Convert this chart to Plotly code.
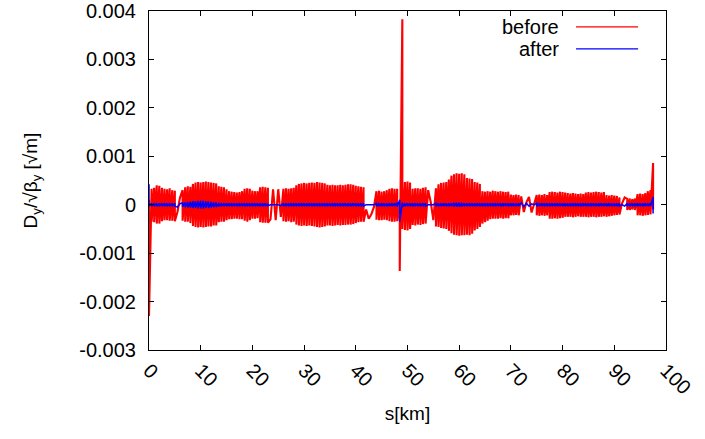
import numpy as np
import plotly.graph_objects as go

# positions along the ring (km), sampled every 0.5 km
s_km = np.arange(0, 97.51, 0.5)

# "before": upper / lower extent of the red trace at each position (units of 1e-4 sqrt(m))
before_hi = [
    1, 3.3, 3.5, 4.0, 3.9, 3.5, 3.3, 3.2, 3.4, 3.0,
    2.9, -1.5, 1.5, 3.0, 3.6, 3.8, 3.7, 4.3, 4.6, 4.7,
    4.6, 4.7, 4.8, 4.7, 4.6, 4.5, 4.4, 3.8, 3.7, 3.6,
    3.2, 2.8, 2.7, 2.6, 2.5, 2.6, 2.8, 3.3, 3.4, 3.3,
    2.9, 2.8, 2.8, 3.6, 3.7, 3.6, 3.5, -3.0, 3.2, -3.2,
    3.2, -2.5, 3.3, 3.4, 3.3, 3.4, 3.5, 4.0, 4.3, 4.4,
    4.5, 4.4, 4.5, 4.6, 4.5, 4.7, 4.6, 4.5, 4.4, 4.1,
    4.0, 4.1, 4.0, 4.0, 4.1, 4.0, 4.1, 4.2, 4.2, 4.1,
    3.9, 3.8, 3.7, 3.6, -1.0, -2.9, -2.0, -0.5, 2.8, 2.9,
    2.7, 2.8, 3.0, 3.3, 3.4, 3.3, 3.3, 0.5, 38.3, 4.7,
    4.8, 4.6, 3.3, 3.4, 3.4, 3.3, 3.5, 3.6, 3.0, 0.5,
    -3.2, 3.4, 4.2, 4.5, 4.6, 4.7, 5.2, 6.0, 6.3, 6.5,
    6.4, 6.5, 6.3, 5.5, 5.4, 5.3, 4.7, 4.6, 4.3, 2.8,
    2.7, 2.8, 2.7, 2.9, 2.8, 2.7, 2.8, 2.7, 2.6, 2.7,
    2.1, 2.0, 2.1, 2.0, 1.7, -1.5, 0.5, 1.6, -1.6, 0.5,
    2.0, 2.1, 2.0, 2.2, 2.0, 2.6, 2.7, 2.6, 2.5, 2.7,
    2.6, 2.5, 2.4, 2.3, 2.4, 2.3, 2.2, 2.3, 2.2, 2.5,
    2.6, 2.5, 2.6, 2.7, 2.6, 2.5, 2.6, 2.0, 1.9, 2.0,
    1.9, 1.8, 1.5, 0.3, 1.5, 1.2, 1.3, 1.2, 1.3, 2.2,
    2.3, 2.2, 2.4, 2.8, 3.0, 8.6,
]
before_lo = [
    -23, -3.5, -3.6, -3.9, -3.9, -3.4, -3.2, -3.2, -3.3, -3.3,
    -3.4, -1.5, 1.5, -3.3, -3.5, -3.5, -3.8, -4.4, -4.6, -4.7,
    -4.6, -4.7, -4.6, -4.5, -4.5, -4.3, -4.3, -3.6, -3.5, -3.5,
    -3.2, -3.0, -3.0, -2.9, -2.9, -3.0, -3.0, -3.3, -3.5, -3.2,
    -2.9, -2.9, -2.8, -3.6, -3.7, -3.7, -3.7, -3.0, 3.2, -3.2,
    3.2, -2.5, -3.4, -3.5, -3.4, -3.6, -3.5, -4.1, -4.3, -4.4,
    -4.3, -4.4, -4.3, -4.4, -4.5, -4.6, -4.7, -4.6, -4.5, -4.3,
    -4.3, -4.4, -4.3, -4.2, -4.3, -4.2, -4.2, -4.1, -4.1, -4.0,
    -3.8, -3.6, -3.5, -3.5, -1.0, -2.9, -2.0, -0.5, -3.1, -3.2,
    -3.2, -3.1, -3.2, -3.4, -3.5, -3.5, -3.4, -13.7, -5.0, -5.2,
    -5.3, -5.0, -4.2, -4.3, -4.1, -4.2, -4.0, -3.9, 3.0, 0.5,
    -3.2, -4.5, -4.6, -4.8, -4.9, -5.0, -5.4, -5.9, -6.2, -6.3,
    -6.4, -6.3, -6.3, -6.2, -6.3, -6.0, -5.3, -5.0, -4.6, -3.9,
    -3.6, -3.3, -3.0, -2.9, -2.9, -2.9, -2.8, -2.9, -2.8, -2.8,
    -2.2, -2.2, -2.1, -2.2, 1.7, -1.5, 0.5, 1.6, -1.6, 0.5,
    -2.2, -2.3, -2.2, -2.3, -2.2, -2.9, -2.9, -2.8, -2.9, -2.8,
    -2.7, -2.5, -2.5, -2.5, -2.6, -2.5, -2.4, -2.5, -2.5, -2.5,
    -2.6, -2.5, -2.5, -2.6, -2.5, -2.5, -2.4, -2.5, -2.4, -2.3,
    -2.2, -2.1, -2.0, 0.3, 1.5, -1.1, -1.1, -1.0, -1.1, -2.2,
    -2.2, -2.3, -2.2, -2.1, -2.0, -1.0,
]

# "after": upper / lower extent of the blue trace (units of 1e-4 sqrt(m))
after_hi = [
    4.2, 0.3, 0.3, 0.3, 0.3, 0.3, 0.3, 0.3, 0.3, 0.3,
    0.3, -0.5, 0.2, 0.4, 0.5, 0.6, 0.6, 0.7, 0.7, 0.8,
    0.8, 0.8, 0.7, 0.7, 0.6, 0.5, 0.5, 0.4, 0.3, 0.3,
    0.3, 0.3, 0.3, 0.3, 0.3, 0.3, 0.3, 0.3, 0.3, 0.3,
    0.3, 0.3, 0.3, 0.3, 0.3, 0.3, 0.2, 0.0, 0.0, 0.0,
    0.0, -0.2, 0.3, 0.3, 0.3, 0.3, 0.3, 0.3, 0.3, 0.3,
    0.3, 0.3, 0.3, 0.3, 0.3, 0.3, 0.3, 0.3, 0.3, 0.3,
    0.3, 0.3, 0.3, 0.3, 0.3, 0.3, 0.3, 0.3, 0.3, 0.3,
    0.3, 0.3, 0.3, 0.3, 0.0, 0.0, 0.0, 0.0, 0.3, 0.3,
    0.3, 0.3, 0.3, 0.3, 0.3, 0.3, 0.4, 1.0, 0.5, 0.3,
    0.3, 0.3, 0.3, 0.3, 0.3, 0.3, 0.3, 0.3, 0.0, 0.0,
    0.0, 0.3, 0.3, 0.3, 0.3, 0.3, 0.3, 0.3, 0.4, 0.4,
    0.4, 0.4, 0.3, 0.3, 0.3, 0.3, 0.3, 0.3, 0.3, 0.3,
    0.3, 0.3, 0.3, 0.3, 0.3, 0.3, 0.3, 0.3, 0.3, 0.3,
    0.3, 0.3, 0.3, 0.3, 0.4, -0.4, 0.3, -0.3, 0.2, 0.0,
    0.3, 0.3, 0.3, 0.3, 0.3, 0.3, 0.3, 0.3, 0.3, 0.3,
    0.3, 0.3, 0.3, 0.3, 0.3, 0.3, 0.3, 0.3, 0.3, 0.3,
    0.3, 0.3, 0.3, 0.3, 0.3, 0.3, 0.3, 0.3, 0.3, 0.3,
    0.3, 0.3, 0.3, 0.0, -0.3, 0.3, 0.3, 0.3, 0.3, 0.3,
    0.3, 0.3, 0.3, 0.3, 0.3, 1.6,
]
after_lo = [
    -0.3, -0.3, -0.3, -0.3, -0.3, -0.3, -0.3, -0.3, -0.3, -0.3,
    -0.3, -0.5, 0.2, -0.4, -0.5, -0.6, -0.6, -0.7, -0.7, -0.8,
    -0.8, -0.8, -0.7, -0.7, -0.6, -0.5, -0.5, -0.4, -0.3, -0.3,
    -0.3, -0.3, -0.3, -0.3, -0.3, -0.3, -0.3, -0.3, -0.3, -0.3,
    -0.3, -0.3, -0.3, -0.3, -0.3, -0.3, -0.2, 0.0, 0.0, 0.0,
    0.0, -0.2, -0.3, -0.3, -0.3, -0.3, -0.3, -0.3, -0.3, -0.3,
    -0.3, -0.3, -0.3, -0.3, -0.3, -0.3, -0.3, -0.3, -0.3, -0.3,
    -0.3, -0.3, -0.3, -0.3, -0.3, -0.3, -0.3, -0.3, -0.3, -0.3,
    -0.3, -0.3, -0.3, -0.3, 0.0, 0.0, 0.0, 0.0, -0.3, -0.3,
    -0.3, -0.3, -0.3, -0.3, -0.3, -0.3, -0.4, -3.5, -0.5, -0.3,
    -0.3, -0.3, -0.3, -0.3, -0.3, -0.3, -0.3, -0.3, 0.0, 0.0,
    0.0, -0.3, -0.3, -0.3, -0.3, -0.3, -0.3, -0.3, -0.4, -0.4,
    -0.4, -0.4, -0.3, -0.3, -0.3, -0.3, -0.3, -0.3, -0.3, -0.3,
    -0.3, -0.3, -0.3, -0.3, -0.3, -0.3, -0.3, -0.3, -0.3, -0.3,
    -0.3, -0.3, -0.3, -0.3, 0.4, -0.4, 0.3, -0.3, 0.2, 0.0,
    -0.3, -0.3, -0.3, -0.3, -0.3, -0.3, -0.3, -0.3, -0.3, -0.3,
    -0.3, -0.3, -0.3, -0.3, -0.3, -0.3, -0.3, -0.3, -0.3, -0.3,
    -0.3, -0.3, -0.3, -0.3, -0.3, -0.3, -0.3, -0.3, -0.3, -0.3,
    -0.3, -0.3, -0.3, 0.0, -0.3, -0.3, -0.3, -0.3, -0.3, -0.3,
    -0.3, -0.3, -0.3, -0.3, -0.3, -1.8,
]

x_ticks = [0, 10, 20, 30, 40, 50, 60, 70, 80, 90, 100]
y_ticks = [-0.003, -0.002, -0.001, 0, 0.001, 0.002, 0.003, 0.004]
y_tick_text = ["-0.003", "-0.002", "-0.001", "0", "0.001", "0.002", "0.003", "0.004"]
legend_names = ["before", "after"]

assert len(before_hi) == len(before_lo) == len(after_hi) == len(after_lo) == len(s_km)

UNIT = 1e-4


def trace_path(s, hi, lo):
    xs, ys = [], []
    for si, h, l in zip(s, hi, lo):
        xs += [si, si]
        ys += [h * UNIT, l * UNIT]
    return xs, ys


bx, by = trace_path(s_km, before_hi, before_lo)
ax_, ay = trace_path(s_km, after_hi, after_lo)

FONT = "Liberation Sans, Arial, sans-serif"

fig = go.Figure()
fig.add_trace(go.Scatter(x=bx, y=by, mode="lines", name=legend_names[0],
                         line=dict(color="#ff0000", width=2.1), showlegend=False))
fig.add_trace(go.Scatter(x=ax_, y=ay, mode="lines", name=legend_names[1],
                         line=dict(color="#0000ff", width=1.5), showlegend=False))

# gnuplot-style key: right-aligned label followed by a line sample
key_y = [0.953, 0.888]
key_colors = ["#ff0000", "#0000ff"]
for name, yk, col in zip(legend_names, key_y, key_colors):
    fig.add_annotation(x=0.797, y=yk, xref="paper", yref="paper", text=name,
                       showarrow=False, xanchor="right", yanchor="middle",
                       font=dict(family=FONT, size=20, color="black"))
    fig.add_shape(type="line", xref="paper", yref="paper", x0=0.826, x1=0.946,
                  y0=yk, y1=yk, line=dict(color=col, width=1.2))

axis_common = dict(showgrid=False, zeroline=False, showline=True, linecolor="black",
                   linewidth=1, mirror="ticks", ticks="inside", ticklen=5,
                   tickcolor="black", tickwidth=1, automargin=False,
                   tickfont=dict(family=FONT, size=20, color="black"))

fig.update_xaxes(range=[0, 100], tickvals=x_ticks, ticktext=[str(v) for v in x_ticks],
                 tickangle=45, title=dict(text="s[km]", font=dict(family=FONT, size=19, color="black"),
                                         standoff=9),
                 **axis_common)
fig.update_yaxes(range=[-0.003, 0.004], tickvals=y_ticks, ticktext=y_tick_text,
                 ticklabelstandoff=8,
                 title=dict(text="D<sub>y</sub>/√β<sub>y</sub> [√m]",
                            font=dict(family=FONT, size=19, color="black"), standoff=36),
                 **axis_common)

fig.update_layout(width=705, height=439,
                  margin=dict(l=149, r=39, t=11, b=89, autoexpand=False),
                  paper_bgcolor="white", plot_bgcolor="white", showlegend=False)

# remove the default page margin so the figure sits at the window's top-left corner
fig.write_html("out.html", config={"displayModeBar": False},
               post_script="document.body.style.margin='0';document.body.style.overflow='hidden';")
